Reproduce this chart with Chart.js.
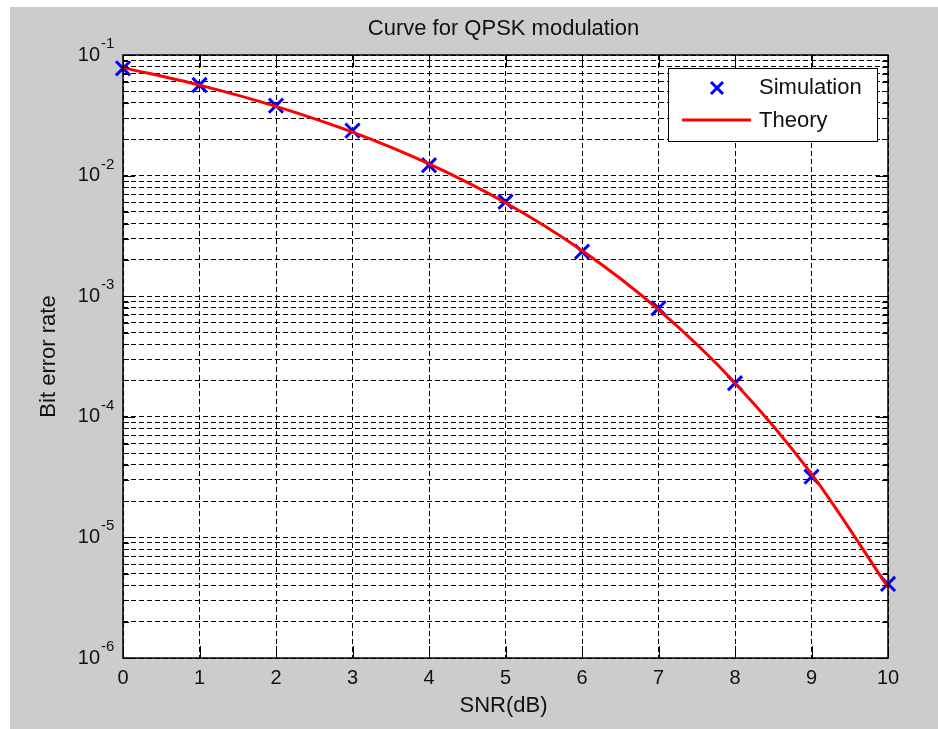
<!DOCTYPE html>
<html>
<head>
<meta charset="utf-8">
<title>Curve for QPSK modulation</title>
<script src="https://cdn.jsdelivr.net/npm/chart.js@4.4.1/dist/chart.umd.min.js"></script>
<style>
  html, body { margin: 0; padding: 0; background: #fff; }
  canvas { display: block; }
</style>
</head>
<body>
<canvas id="berChart" width="938" height="729"></canvas>
<script>
// data
const snrDb = [0, 1, 2, 3, 4, 5, 6, 7, 8, 9, 10];
const simulationBer = [0.0776, 0.0564, 0.0380, 0.0236, 0.0122, 0.00608, 0.00234, 0.000794, 0.000190, 0.0000319, 0.00000411];
const theoryBer = [0.0786, 0.0563, 0.0375, 0.0229, 0.0125, 0.00595, 0.00239, 0.000773, 0.000191, 0.0000336, 0.00000387];

// axis ticks
const xTickLabels = ['0', '1', '2', '3', '4', '5', '6', '7', '8', '9', '10'];
const yDecadeExponents = [-6, -5, -4, -3, -2, -1];
const yMinorSteps = [2, 3, 4, 5, 6, 7, 8, 9];

const FONT = '"Liberation Sans", Arial, Helvetica, sans-serif';
const INK = '#111';

// y grid lines at every 1..9 x 10^n
function yGridValues() {
  const vals = [];
  yDecadeExponents.forEach((e, i) => {
    const base = Math.pow(10, e);
    vals.push(base);
    if (i < yDecadeExponents.length - 1) {
      yMinorSteps.forEach(m => vals.push(m * base));
    }
  });
  return vals;
}

const matlabFrame = {
  id: 'matlabFrame',
  beforeDraw(chart) {
    const ctx = chart.ctx;
    const a = chart.chartArea;
    ctx.save();
    ctx.fillStyle = '#ffffff';
    ctx.fillRect(0, 0, chart.width, chart.height);
    ctx.fillStyle = '#cccccc';
    ctx.fillRect(10, 7, chart.width - 10, chart.height - 7);
    ctx.fillStyle = '#ffffff';
    ctx.fillRect(a.left, a.top, a.right - a.left, a.bottom - a.top);
    ctx.restore();
  },
  afterDraw(chart) {
    const ctx = chart.ctx;
    const a = chart.chartArea;
    const xs = chart.scales.x;
    const ys = chart.scales.y;
    ctx.save();

    // inner tick marks
    ctx.strokeStyle = '#000';
    ctx.lineWidth = 1;
    ctx.beginPath();
    snrDb.forEach(v => {
      const px = Math.round(xs.getPixelForValue(v)) + 0.5;
      ctx.moveTo(px, a.bottom); ctx.lineTo(px, a.bottom - 12);
      ctx.moveTo(px, a.top); ctx.lineTo(px, a.top + 12);
    });
    yGridValues().forEach(v => {
      const major = Math.abs(Math.log10(v) - Math.round(Math.log10(v))) < 1e-9;
      const len = major ? 12 : 6;
      const py = Math.round(ys.getPixelForValue(v)) + 0.5;
      ctx.moveTo(a.left, py); ctx.lineTo(a.left + len, py);
      ctx.moveTo(a.right, py); ctx.lineTo(a.right - len, py);
    });
    ctx.stroke();

    // axes box
    ctx.lineWidth = 1.5;
    ctx.strokeRect(a.left, a.top, a.right - a.left, a.bottom - a.top);

    // y tick labels 10^n
    ctx.fillStyle = INK;
    yDecadeExponents.forEach(e => {
      const py = ys.getPixelForValue(Math.pow(10, e));
      ctx.font = '20px ' + FONT;
      ctx.textAlign = 'right';
      ctx.textBaseline = 'middle';
      ctx.fillText('10', a.left - 23, py);
      ctx.font = '15px ' + FONT;
      ctx.textAlign = 'left';
      ctx.textBaseline = 'alphabetic';
      ctx.fillText(String(e), a.left - 22, py - 7);
    });

    // title and axis titles
    ctx.font = '22px ' + FONT;
    ctx.textAlign = 'center';
    ctx.textBaseline = 'middle';
    ctx.fillText('Curve for QPSK modulation', (a.left + a.right) / 2 - 2, 29);
    ctx.fillText('SNR(dB)', (a.left + a.right) / 2 - 2, 706);
    ctx.save();
    ctx.translate(49, (a.top + a.bottom) / 2);
    ctx.rotate(-Math.PI / 2);
    ctx.fillText('Bit error rate', 0, 0);
    ctx.restore();

    // legend
    const lx = 668, ly = 68, lw = 209, lh = 73;
    ctx.fillStyle = '#ffffff';
    ctx.fillRect(lx, ly, lw, lh);
    ctx.strokeStyle = '#000';
    ctx.lineWidth = 1;
    ctx.strokeRect(lx + 0.5, ly + 0.5, lw, lh);

    ctx.strokeStyle = '#0000ff';
    ctx.lineWidth = 3;
    ctx.beginPath();
    ctx.moveTo(711, 82); ctx.lineTo(723, 94);
    ctx.moveTo(723, 82); ctx.lineTo(711, 94);
    ctx.stroke();

    ctx.strokeStyle = '#ff0000';
    ctx.beginPath();
    ctx.moveTo(682, 120); ctx.lineTo(751, 120);
    ctx.stroke();

    ctx.fillStyle = INK;
    ctx.font = '22px ' + FONT;
    ctx.textAlign = 'left';
    ctx.textBaseline = 'middle';
    ctx.fillText('Simulation', 759, 88);
    ctx.fillText('Theory', 759, 121);

    ctx.restore();
  }
};

const ctx = document.getElementById('berChart').getContext('2d');

new Chart(ctx, {
  type: 'scatter',
  data: {
    datasets: [
      {
        label: 'Simulation',
        data: snrDb.map((x, i) => ({ x: x, y: simulationBer[i] })),
        showLine: false,
        pointStyle: 'crossRot',
        pointRadius: 10,
        pointBorderWidth: 3,
        pointBorderColor: '#0000ff',
        pointBackgroundColor: '#0000ff',
        clip: false,
        order: 2
      },
      {
        label: 'Theory',
        data: snrDb.map((x, i) => ({ x: x, y: theoryBer[i] })),
        showLine: true,
        borderColor: '#ff0000',
        borderWidth: 3,
        pointRadius: 0,
        cubicInterpolationMode: 'monotone',
        clip: false,
        order: 1
      }
    ]
  },
  options: {
    responsive: false,
    animation: false,
    layout: { padding: { top: 55, right: 50, left: 0, bottom: 0 } },
    plugins: {
      legend: { display: false },
      title: { display: false },
      tooltip: { enabled: false }
    },
    scales: {
      x: {
        type: 'linear',
        min: 0,
        max: 10,
        afterFit: scale => { scale.height = 71; },
        ticks: {
          stepSize: 1,
          autoSkip: false,
          maxRotation: 0,
          padding: 8,
          color: INK,
          font: { family: FONT, size: 20 },
          callback: v => xTickLabels[v]
        },
        grid: { color: '#000', lineWidth: 1, drawTicks: false },
        border: { display: false, dash: [5, 3] }
      },
      y: {
        type: 'logarithmic',
        min: 1e-6,
        max: 1e-1,
        afterFit: scale => { scale.width = 123; },
        afterBuildTicks: scale => {
          scale.ticks = yGridValues().map(v => ({ value: v }));
        },
        ticks: { display: false, autoSkip: false },
        grid: { color: '#000', lineWidth: 1, drawTicks: false },
        border: { display: false, dash: [5, 3] }
      }
    }
  },
  plugins: [matlabFrame]
});
</script>
</body>
</html>
